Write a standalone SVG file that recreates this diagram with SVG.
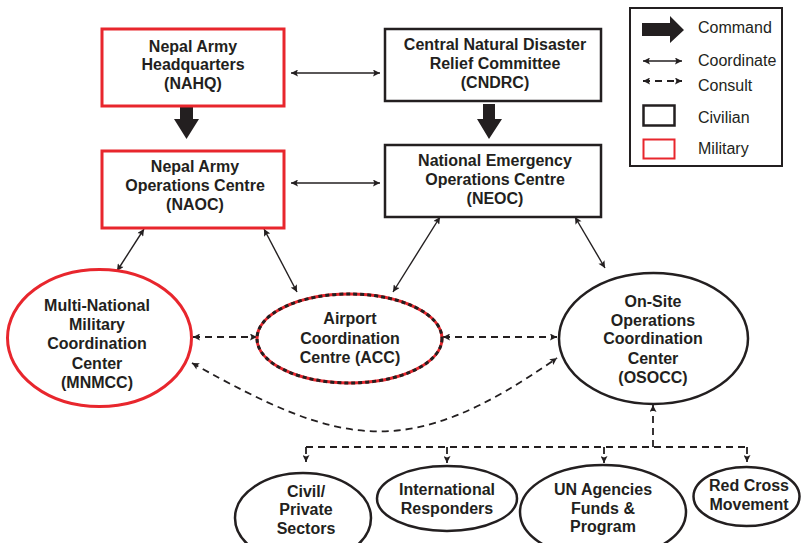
<svg xmlns="http://www.w3.org/2000/svg" width="801" height="543" viewBox="0 0 801 543">
<defs>
<marker id="ah" viewBox="0 0 10 10" refX="10" refY="5" markerWidth="8" markerHeight="7" markerUnits="userSpaceOnUse" orient="auto-start-reverse">
<path d="M0,0 L10,5 L0,10 L2,5 z" fill="#231f20"/>
</marker>
<style>
text{font-family:"Liberation Sans",Arial,sans-serif;fill:#231f20;text-anchor:middle}
.b{font-weight:bold;font-size:16px}
.l{font-size:16px;text-anchor:start}
.civ{fill:#fff;stroke:#231f20;stroke-width:2.5}
.mil{fill:#fff;stroke:#e8262d;stroke-width:3}
.co{fill:none;stroke:#231f20;stroke-width:1.4;marker-start:url(#ah);marker-end:url(#ah)}
.cs{fill:none;stroke:#231f20;stroke-width:1.8;stroke-dasharray:7 5}
.cmd{fill:#231f20}
</style>
</defs>
<rect width="801" height="543" fill="#fff"/>

<g id="connectors">
<polygon class="cmd" points="180,105 193,105 193,119 199,119 186.5,139 174,119 180,119"/>
<polygon class="cmd" points="483,104 495,104 495,119 502,119 489,139 477,119 483,119"/>
<line class="co" x1="291" y1="73" x2="380" y2="73"/>
<line class="co" x1="291" y1="183" x2="380" y2="183"/>
<line class="co" x1="144" y1="229" x2="117" y2="271"/>
<line class="co" x1="264" y1="229" x2="297" y2="292"/>
<line class="co" x1="440" y1="217" x2="393" y2="292"/>
<line class="co" x1="575" y1="217" x2="605" y2="268"/>
<line class="cs" x1="193" y1="337" x2="257" y2="337" marker-start="url(#ah)" marker-end="url(#ah)"/>
<line class="cs" x1="443" y1="337" x2="557" y2="337" marker-start="url(#ah)" marker-end="url(#ah)"/>
<path class="cs" d="M192,363 C342,447 407,463 557,358" marker-start="url(#ah)" marker-end="url(#ah)"/>
<path class="cs" d="M653,447 L653,405" marker-end="url(#ah)"/>
<path class="cs" d="M306,447 L747,447"/>
<path class="cs" d="M306,447 L306,462" marker-end="url(#ah)"/>
<path class="cs" d="M447,447 L447,463" marker-end="url(#ah)"/>
<path class="cs" d="M604,447 L604,463" marker-end="url(#ah)"/>
<path class="cs" d="M747,447 L747,462" marker-end="url(#ah)"/>
</g>

<g id="NAHQ">
<rect class="mil" x="102" y="29" width="182" height="77"/>
<text class="b" x="193" y="52">Nepal Army</text>
<text class="b" x="193" y="70">Headquarters</text>
<text class="b" x="193" y="89">(NAHQ)</text>
</g>
<g id="CNDRC">
<rect class="civ" x="385" y="29" width="216" height="72"/>
<text class="b" x="495" y="50">Central Natural Disaster</text>
<text class="b" x="495" y="69">Relief Committee</text>
<text class="b" x="495" y="88">(CNDRC)</text>
</g>
<g id="NAOC">
<rect class="mil" x="102" y="151" width="182" height="77"/>
<text class="b" x="195" y="172">Nepal Army</text>
<text class="b" x="195" y="191">Operations Centre</text>
<text class="b" x="195" y="210">(NAOC)</text>
</g>
<g id="NEOC">
<rect class="civ" x="385" y="145" width="216" height="72"/>
<text class="b" x="495" y="166">National Emergency</text>
<text class="b" x="495" y="185">Operations Centre</text>
<text class="b" x="495" y="204">(NEOC)</text>
</g>
<g id="MNMCC">
<ellipse class="mil" cx="99.5" cy="338" rx="92" ry="68.5" stroke-width="2.5"/>
<text class="b" x="97" y="311">Multi-National</text>
<text class="b" x="97" y="330">Military</text>
<text class="b" x="97" y="349">Coordination</text>
<text class="b" x="97" y="369">Center</text>
<text class="b" x="97" y="388">(MNMCC)</text>
</g>
<g id="ACC">
<ellipse cx="349.5" cy="338.5" rx="92.5" ry="44.5" fill="#fff" stroke="#e8262d" stroke-width="3"/>
<ellipse cx="349.5" cy="338.5" rx="92.5" ry="44.5" fill="none" stroke="#231f20" stroke-width="3" stroke-dasharray="4 3"/>
<text class="b" x="350" y="324">Airport</text>
<text class="b" x="350" y="344">Coordination</text>
<text class="b" x="350" y="363">Centre (ACC)</text>
</g>
<g id="OSOCC">
<ellipse class="civ" cx="653.5" cy="338.5" rx="94.5" ry="65.5"/>
<text class="b" x="653" y="307">On-Site</text>
<text class="b" x="653" y="326">Operations</text>
<text class="b" x="653" y="344">Coordination</text>
<text class="b" x="653" y="364">Center</text>
<text class="b" x="653" y="383">(OSOCC)</text>
</g>
<g id="Civil">
<ellipse class="civ" cx="303" cy="518" rx="68" ry="45"/>
<text class="b" x="306" y="497">Civil/</text>
<text class="b" x="306" y="515">Private</text>
<text class="b" x="306" y="534">Sectors</text>
</g>
<g id="International">
<ellipse class="civ" cx="447" cy="498.5" rx="70" ry="32.5"/>
<text class="b" x="447" y="495">International</text>
<text class="b" x="447" y="514">Responders</text>
</g>
<g id="UN">
<ellipse class="civ" cx="603" cy="512" rx="83" ry="47"/>
<text class="b" x="603" y="495">UN Agencies</text>
<text class="b" x="603" y="514">Funds &amp;</text>
<text class="b" x="603" y="532">Program</text>
</g>
<g id="RedCross">
<ellipse class="civ" cx="746.5" cy="496.5" rx="53" ry="29.5"/>
<text class="b" x="749" y="491">Red Cross</text>
<text class="b" x="749" y="510">Movement</text>
</g>

<g id="legend">
<rect x="630" y="8" width="152" height="158" fill="#fff" stroke="#231f20" stroke-width="2"/>
<polygon class="cmd" points="642,23 670,23 670,16 684,30 670,43 670,36 642,36"/>
<text class="l" x="698" y="33">Command</text>
<line class="co" x1="643" y1="61" x2="682" y2="61"/>
<text class="l" x="698" y="66">Coordinate</text>
<line class="cs" x1="643" y1="81" x2="682" y2="81" stroke-dasharray="5 5" marker-start="url(#ah)" marker-end="url(#ah)"/>
<text class="l" x="698" y="91">Consult</text>
<rect x="643.5" y="105.5" width="31" height="20" fill="#fff" stroke="#231f20" stroke-width="2.5"/>
<text class="l" x="698" y="123">Civilian</text>
<rect x="643.5" y="139.5" width="31" height="19" fill="#fff" stroke="#e8262d" stroke-width="2"/>
<text class="l" x="698" y="154">Military</text>
</g>
</svg>
